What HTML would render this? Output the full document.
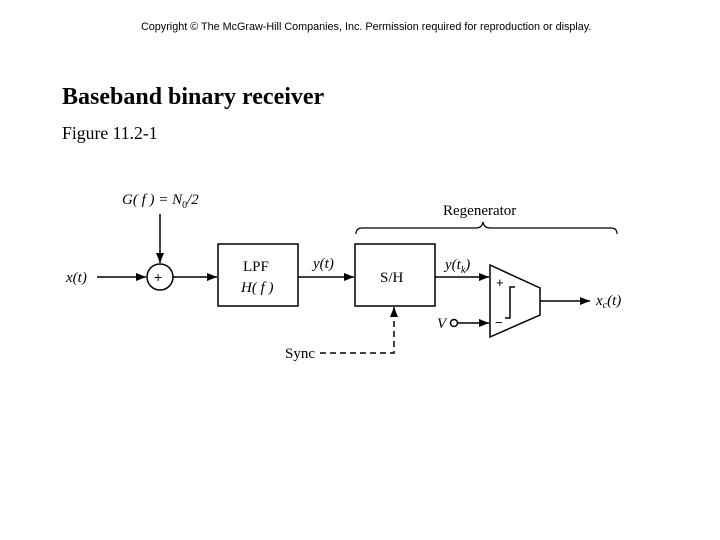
<!DOCTYPE html>
<html><head><style>
body{margin:0;background:#fff;width:720px;height:540px;overflow:hidden;position:relative;font-family:"Liberation Serif",serif}
.t{position:absolute;white-space:nowrap}
</style></head><body>
<div class="t" style="left:141px;top:21px;font:10.8px 'Liberation Sans',sans-serif">Copyright © The McGraw-Hill Companies, Inc.  Permission required for reproduction or display.</div>
<div class="t" style="left:62px;top:84px;font-size:24px;font-weight:bold">Baseband binary receiver</div>
<div class="t" style="left:62px;top:123px;font-size:17.7px">Figure 11.2-1</div>
<svg width="720" height="540" style="position:absolute;left:0;top:0" font-family="Liberation Serif" font-size="15">
<defs><marker id="a" markerWidth="10" markerHeight="8" refX="10" refY="4" orient="auto" markerUnits="userSpaceOnUse"><path d="M0,0 L10,4 L0,8 z" fill="#000"/></marker></defs>
<g stroke="#000" stroke-width="1.5" fill="none">
<line x1="97" y1="277" x2="146" y2="277" marker-end="url(#a)"/>
<circle cx="160" cy="277" r="13"/>
<line x1="160" y1="214" x2="160" y2="263" marker-end="url(#a)"/>
<line x1="173" y1="277" x2="217" y2="277" marker-end="url(#a)"/>
<rect x="218" y="244" width="80" height="62"/>
<line x1="298" y1="277" x2="354" y2="277" marker-end="url(#a)"/>
<rect x="355" y="244" width="80" height="62"/>
<line x1="435" y1="277" x2="489" y2="277" marker-end="url(#a)"/>
<path d="M490,265 L540,288 L540,315 L490,337 Z"/>
<path d="M505,318 L510,318 L510,287 L515,287"/>
<line x1="540" y1="301" x2="590" y2="301" marker-end="url(#a)"/>
<circle cx="454" cy="323" r="3.5"/>
<line x1="458" y1="323" x2="489" y2="323" marker-end="url(#a)"/>
<path d="M320,353 L394,353 L394,308" stroke-dasharray="6,4"/>
<line x1="394" y1="316" x2="394" y2="307" marker-end="url(#a)"/>
<path d="M356,234 Q356,228 362,228 L476,228 Q482,228 483,222 Q484,228 490,228 L611,228 Q617,228 617,234" stroke-width="1.2"/>
</g>
<text x="154" y="282" font-family="Liberation Sans" font-size="14">+</text>
<text x="122" y="204" font-style="italic">G( f ) = N<tspan font-size="10" dy="4" font-style="normal">0</tspan><tspan dy="-4">/2</tspan></text>
<text x="66" y="282" font-style="italic">x(t)</text>
<text x="243" y="271">LPF</text>
<text x="241" y="292" font-style="italic">H( f )</text>
<text x="313" y="268" font-style="italic">y(t)</text>
<text x="380" y="282">S/H</text>
<text x="445" y="269" font-style="italic">y(t<tspan font-size="10" dy="4">k</tspan><tspan dy="-4">)</tspan></text>
<text x="443" y="215" font-size="15">Regenerator</text>
<text x="496" y="287" font-family="Liberation Sans" font-size="13">+</text>
<text x="495" y="327" font-family="Liberation Sans" font-size="13">−</text>
<text x="596" y="305" font-style="italic">x<tspan font-size="10" dy="3">c</tspan><tspan dy="-3">(t)</tspan></text>
<text x="437" y="328" font-style="italic">V</text>
<text x="285" y="358">Sync</text>
</svg>
</body></html>
